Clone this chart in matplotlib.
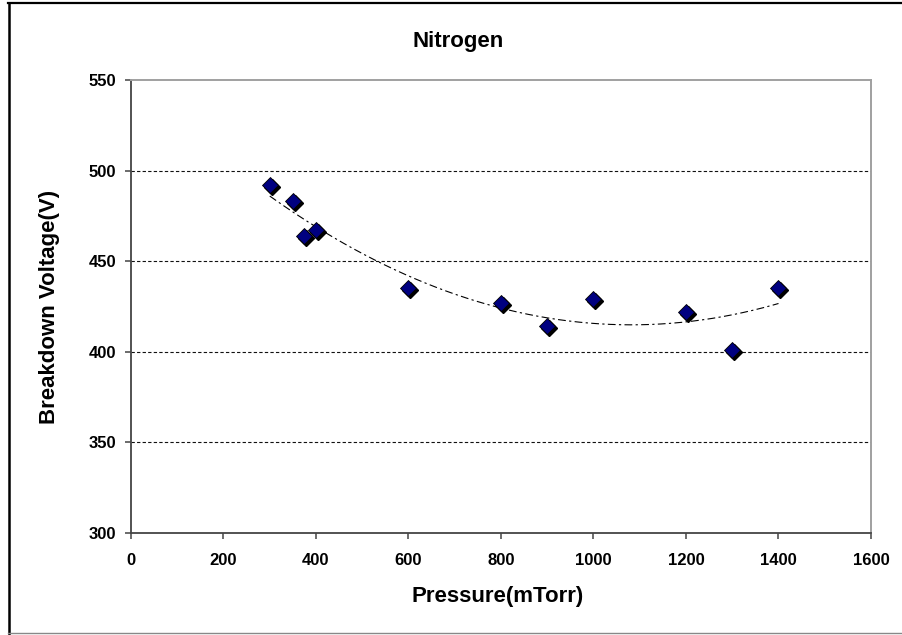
import matplotlib
matplotlib.use('Agg')
import matplotlib.pyplot as plt
import matplotlib.transforms as mtransforms
from matplotlib.lines import Line2D
import numpy as np

plt.rcParams['font.family'] = ['Liberation Sans', 'DejaVu Sans']

# breakdown voltage of nitrogen against gas pressure
pressure = [300, 350, 375, 400, 600, 800, 900, 1000, 1200, 1300, 1400]
voltage = [492, 483, 464, 467, 435, 427, 414, 429, 422, 401, 435]

x_ticks = [0, 200, 400, 600, 800, 1000, 1200, 1400, 1600]
y_ticks = [300, 350, 400, 450, 500, 550]

fig = plt.figure(figsize=(9.03, 6.35), dpi=100)
ax = fig.add_axes([131 / 903, 102 / 635, 740 / 903, 453 / 635])

ax.set_xlim(0, 1600)
ax.set_ylim(300, 550)
ax.set_xticks(x_ticks)
ax.set_yticks(y_ticks)

# horizontal dashed grid, the top line is the plot frame
for v in y_ticks[1:-1]:
    ax.axhline(v, color='#111111', linewidth=0.8, linestyle=(0, (3.0, 2.0)), zorder=1)

# second order polynomial trend line across the measured range
coef = np.polyfit(pressure, voltage, 2)
x_fit = np.linspace(min(pressure), max(pressure), 200)
ax.plot(x_fit, np.polyval(coef, x_fit), color='black', linewidth=0.8,
        linestyle=(0, (7, 3, 2, 3)), zorder=2)

# diamonds with a small dark shadow
shadow = mtransforms.offset_copy(ax.transData, fig=fig, x=1.8, y=-1.8, units='dots')
ax.plot(pressure, voltage, linestyle='none', marker='D', markersize=8.5,
        color='black', transform=shadow, zorder=3)
ax.plot(pressure, voltage, linestyle='none', marker='D', markersize=8.5,
        markerfacecolor='#000080', markeredgecolor='black', markeredgewidth=0.6, zorder=4)

for side in ['top', 'right']:
    ax.spines[side].set_color('#a0a0a0')
    ax.spines[side].set_linewidth(1.4)
for side in ['left', 'bottom']:
    ax.spines[side].set_color('#444444')
    ax.spines[side].set_linewidth(1.3)

ax.tick_params(direction='out', length=4.5, width=1.1, color='#444444',
               labelsize=12, pad=6)
for lab in ax.get_xticklabels() + ax.get_yticklabels():
    lab.set_fontweight('bold')
ax.tick_params(axis='x', pad=10)

ax.set_xlabel('Pressure(mTorr)', fontsize=16, fontweight='bold')
ax.set_ylabel('Breakdown Voltage(V)', fontsize=16, fontweight='bold')
ax.xaxis.set_label_coords(0.495, -0.141)
ax.xaxis.label.set_va('center')
ax.yaxis.set_label_coords(-0.11, 0.5)
ax.yaxis.label.set_va('center')

# title centred over the whole chart area
fig.text(458 / 903, 1 - 42 / 635, 'Nitrogen', fontsize=16,
         fontweight='bold', ha='center', va='center')

# outer chart frame
fig.add_artist(Line2D([8.7 / 903, 8.7 / 903], [1 - 2.5 / 635, 1 - 633.5 / 635],
                      transform=fig.transFigure, color='black', linewidth=1.8))
fig.add_artist(Line2D([8 / 903, 1.0], [1 - 2.8 / 635, 1 - 2.8 / 635],
                      transform=fig.transFigure, color='black', linewidth=1.6))
fig.add_artist(Line2D([8 / 903, 1.0], [1 - 633.3 / 635, 1 - 633.3 / 635],
                      transform=fig.transFigure, color='#888888', linewidth=1.0))

fig.savefig('out.png', dpi=100)
